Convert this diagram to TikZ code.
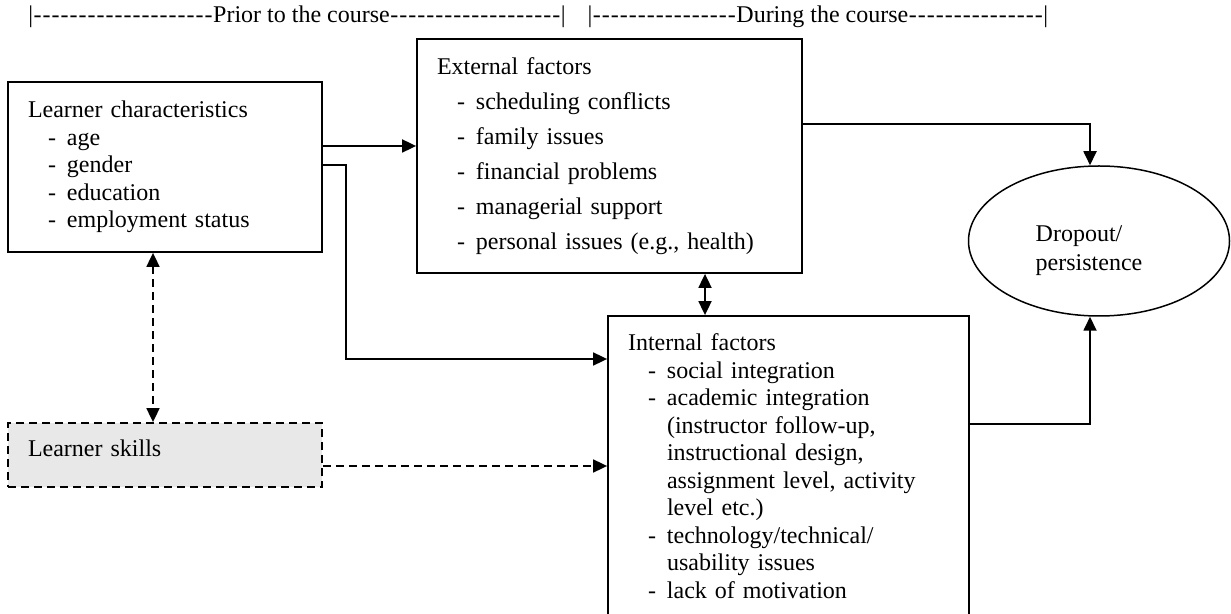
\documentclass[tikz,border=0pt]{standalone}
\usepackage{fontspec}
\setmainfont{Liberation Serif}
\usetikzlibrary{positioning}
\usetikzlibrary{arrows.meta}
\usetikzlibrary{shapes.geometric}
\definecolor{skillgray}{RGB}{232,232,232}
\newcommand{\hyphens}[1]{\foreach \k in {1,...,#1}{\makebox[4.5pt]{-}}}
\newcommand{\itm}{\makebox[19.5pt][l]{\hspace*{10pt}-}}
\newcommand{\cont}{\hspace*{19.5pt}}

\begin{document}
\begin{tikzpicture}[x=0.5pt, y=-0.5pt,
    box/.style={draw, rectangle, line width=0.9pt, align=left, inner xsep=10pt, inner ysep=0pt, font=\fontsize{12}{13.75}\selectfont},
    arr/.style={line width=0.9pt, -{Triangle[length=7pt,width=6.5pt]}},
    dbl/.style={line width=0.9pt, {Triangle[length=7pt,width=6.5pt]}-{Triangle[length=7pt,width=6.5pt]}},
    dashline/.style={dash pattern=on 4pt off 2.5pt}]

    \useasboundingbox (0,0) rectangle (1231,614);
    \clip (0,0) rectangle (1231,614);

    % Time line
    \node (hdr) [anchor=west, inner sep=0pt, font=\fontsize{12}{14}\selectfont] at (28,17) {|\hyphens{20}Prior to the course\hyphens{19}|\hspace{11pt}|\hyphens{16}During the course\hyphens{15}|};

    % Prior to the course
    \node (lchar) [box, text width=137pt, minimum height=85pt] at (165,167) {Learner characteristics\\ \itm age\\ \itm gender\\ \itm education\\ \itm employment status};
    \node (lskill) [box, dashline, fill=skillgray, text width=137pt, minimum height=32pt] at (165,455) {\raisebox{7pt}{Learner skills}};

    % During the course
    \node (ext) [box, text width=172.5pt, minimum height=117pt, font=\fontsize{12}{17.5}\selectfont] at (609.5,156) {External factors\\ \itm scheduling conflicts\\ \itm family issues\\ \itm financial problems\\ \itm managerial support\\ \itm personal issues (e.g., health)};
    \node (int) [box, text width=160.5pt, minimum height=150pt] at (788.5,466) {Internal factors\\ \itm social integration\\ \itm academic integration\\ \cont (instructor follow-up,\\ \cont instructional design,\\ \cont assignment level, activity\\ \cont level etc.)\\ \itm technology/technical/\\ \cont usability issues\\ \itm lack of motivation};

    % Outcome
    \node (drop) [draw, ellipse, line width=0.75pt, minimum width=130.5pt, minimum height=75pt] at (1099,241) {};
    \node (droptext) [align=left, font=\fontsize{12}{14.5}\selectfont, xshift=-5pt, yshift=-5pt] at (drop.center) {Dropout/\\persistence};

    % Arrows
    \draw[arr] ([yshift=10.5pt]lchar.east) -- ([yshift=10.5pt]lchar.east -| ext.west);
    \draw[arr] ([yshift=1pt]lchar.east) -- ++(23,0) |- ([yshift=53.5pt]int.west);
    \draw[arr] ([yshift=16pt]ext.east) -| ([xshift=-4.5pt]drop.north);
    \draw[arr] ([yshift=21pt]int.east) -| ([xshift=-4.5pt]drop.south);
    \draw[dbl] ([xshift=47.75pt]ext.south) -- ([xshift=47.75pt]ext.south |- int.north);
    \draw[dbl, dashline] ([xshift=-6pt]lchar.south) -- ([xshift=-6pt]lskill.north);
    \draw[arr, dashline] ([yshift=-5.5pt]lskill.east) -- ([yshift=-5.5pt]lskill.east -| int.west);

\end{tikzpicture}
\end{document}
